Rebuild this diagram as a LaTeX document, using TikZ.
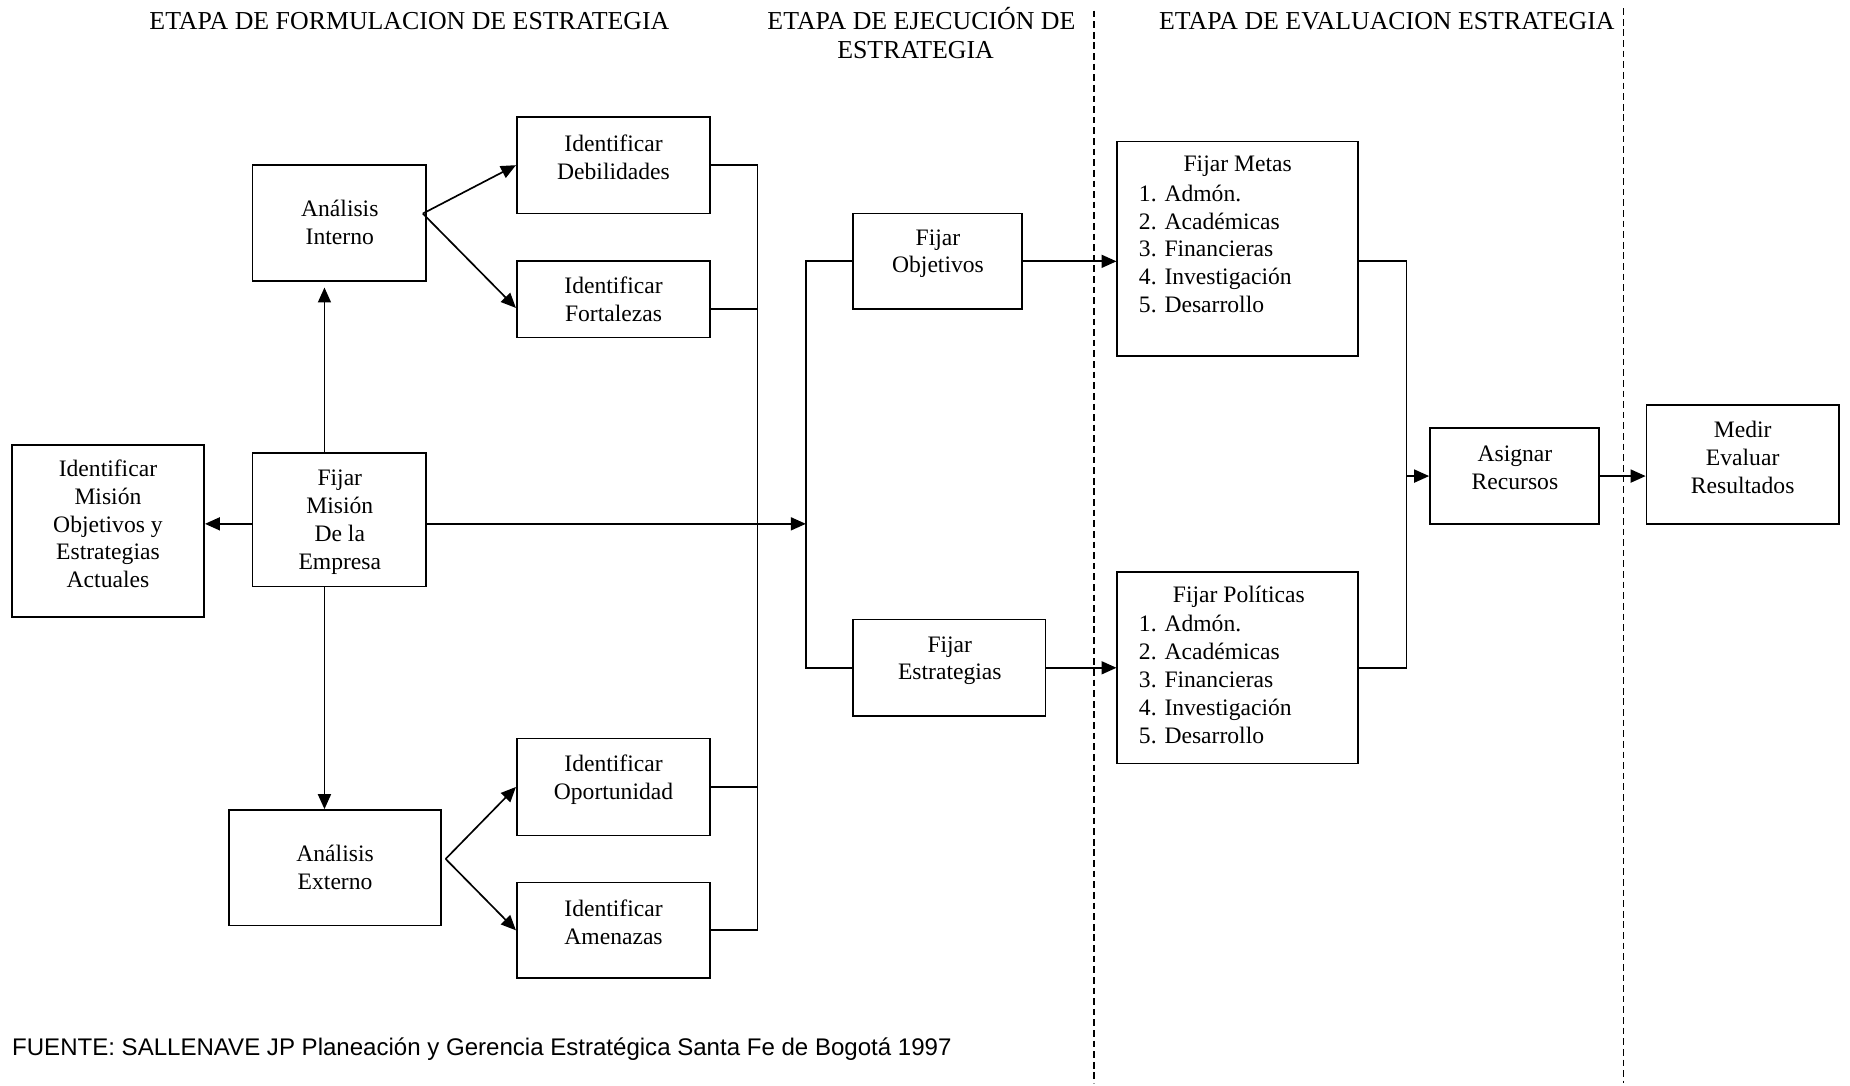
\documentclass[tikz,border=0pt]{standalone}
\usepackage{fontspec}
\setmainfont{Liberation Serif}
\newfontfamily\arialf{Liberation Sans}
\usetikzlibrary{arrows.meta}
\begin{document}
\begin{tikzpicture}[x=0.6pt,y=-0.6pt,
  bx/.style 2 args={draw, line width=0.85pt, inner sep=0pt, rectangle,
    minimum width=#1*0.6pt, minimum height=#2*0.6pt},
  txt/.style={align=center, inner sep=0pt, font=\fontsize{12}{14.2}\selectfont},
  lst/.style={align=left, inner sep=0pt, anchor=west, font=\fontsize{12}{14.2}\selectfont},
  ttl/.style={inner sep=0pt, anchor=base, font=\fontsize{13.15}{15}\selectfont},
  con/.style={line width=0.85pt},
  arr/.style={con, -{Triangle[length=7.6pt,width=6.6pt]}},
  sep/.style={line width=0.85pt, dash pattern=on 3.4pt off 2pt}]
\useasboundingbox (0,0) rectangle (1568,920);

% titles
\node[ttl] (t1) at (347,25) {ETAPA DE FORMULACION DE ESTRATEGIA};
\node[ttl] (t2a) at (781,25) {ETAPA DE EJECUCIÓN DE};
\node[ttl] (t2b) at (776,50) {ESTRATEGIA};
\node[ttl] (t3) at (1175.5,25) {ETAPA DE EVALUACION ESTRATEGIA};

% separators
\coordinate (s1a) at (927.5,9);
\coordinate (s1b) at (927.5,918);
\coordinate (s2a) at (1376,7);
\coordinate (s2b) at (1376,918);
\draw[sep] (s1a) -- (s1b);
\draw[sep] (s2a) -- (s2b);

% boxes
\node[bx={163}{146}] (im) at (91.5,450) {};
\node[txt] (imt) at (91.5,444) {Identificar\\Misión\\Objetivos y\\Estrategias\\Actuales};

\node[bx={147}{113}] (fm) at (287.5,440.5) {};
\node[txt] (fmt) at (288,442.5) {Fijar\\Misión\\De la\\Empresa};

\node[bx={147}{98}] (ai) at (287.5,189) {};
\node[txt] (ait) at (288,188.5) {Análisis\\Interno};

\node[bx={180}{98}] (ae) at (284,735.5) {};
\node[txt] (aet) at (284,735.5) {Análisis\\Externo};

\node[bx={164}{82}] (deb) at (520,140) {};
\node[txt] (debt) at (520,133) {Identificar\\Debilidades};

\node[bx={164}{65}] (fort) at (520,253.5) {};
\node[txt] (fortt) at (520,254) {Identificar\\Fortalezas};

\node[bx={164}{82}] (opo) at (520,667) {};
\node[txt] (opot) at (520,660.5) {Identificar\\Oportunidad};

\node[bx={164}{81}] (ame) at (520,788.5) {};
\node[txt] (amet) at (520,781.5) {Identificar\\Amenazas};

\node[bx={143}{81}] (fo) at (794.5,221.5) {};
\node[txt] (fot) at (795,215) {Fijar\\Objetivos};

\node[bx={163}{82}] (fe) at (804.5,566) {};
\node[txt] (fet) at (805,560) {Fijar\\Estrategias};

\node[bx={204}{182}] (metas) at (1049,211) {};
\node[txt] (metast) at (1049,141) {Fijar Metas};
\node[lst] (metasl) at (965,211) {1. Admón.\\2. Académicas\\3. Financieras\\4. Investigación\\5. Desarrollo};

\node[bx={204}{162}] (pol) at (1049,566) {};
\node[txt] (polt) at (1050,506) {Fijar Políticas};
\node[lst] (poll) at (965,576) {1. Admón.\\2. Académicas\\3. Financieras\\4. Investigación\\5. Desarrollo};

\node[bx={143}{81}] (asig) at (1283.5,403.5) {};
\node[txt] (asigt) at (1284,396.5) {Asignar\\Recursos};

\node[bx={163}{101}] (medir) at (1477,393.5) {};
\node[txt] (medirt) at (1477,387.5) {Medir\\Evaluar\\Resultados};

% footer
\node[inner sep=0pt, anchor=west, font=\arialf\fontsize{12.23}{14}\selectfont] (src) at (10,889)
  {FUENTE: SALLENAVE JP Planeación y Gerencia Estratégica Santa Fe de Bogotá 1997};

% helper coordinates
\coordinate (vx) at (275,0);
\coordinate (mid) at (683,444);
\coordinate (busx) at (642,0);
\coordinate (colx) at (1192,0);

% connectors
\draw[arr] (fm.west |- mid) -- (im.east |- mid);
\draw[arr] (fm.east |- mid) -- (mid);
\draw[arr] (fm.north -| vx) -- ([yshift=-3pt]ai.south -| vx);
\draw[arr] (fm.south -| vx) -- (ae.north -| vx);

\draw[arr] ([yshift=4.8pt,xshift=-2pt]ai.east) -- (deb.west);
\draw[arr] ([yshift=4.8pt,xshift=-2pt]ai.east) -- ([yshift=-4.5pt]fort.west);
\draw[arr] ([yshift=4.5pt,xshift=1.8pt]ae.east) -- (opo.west);
\draw[arr] ([yshift=4.5pt,xshift=1.8pt]ae.east) -- (ame.west);

\draw[con] (deb.east) -- (deb.east -| busx) -- (ame.east -| busx) -- (ame.east);
\draw[con] ([yshift=-5pt]fort.east) -- ([yshift=-5pt]fort.east -| busx);
\draw[con] (opo.east) -- (opo.east -| busx);

\draw[con] (fo.west) -- (fo.west -| mid) -- (fe.west -| mid) -- (fe.west);
\draw[arr] (fo.east) -- (fo.east -| metas.west);
\draw[arr] (fe.east) -- (pol.west);

\draw[con] (fo.east -| metas.east) -- (fo.east -| colx) -- (pol.east -| colx) -- (pol.east);
\draw[arr] (asig.west -| colx) -- (asig.west);
\draw[arr] (asig.east) -- (asig.east -| medir.west);
\end{tikzpicture}
\end{document}
